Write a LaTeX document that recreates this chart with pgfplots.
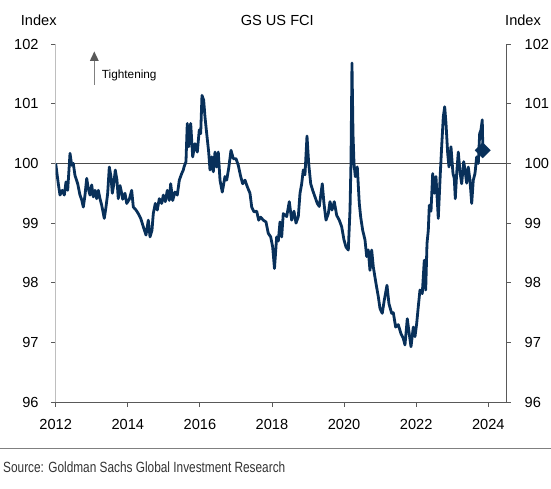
\documentclass[border=0pt]{standalone}
\usepackage{pgfplots}
\pgfplotsset{compat=1.18}
\usepackage{fontspec}
\setmainfont{Liberation Sans}
\newfontfamily\narrowfont[FakeStretch=0.8]{Liberation Sans}
\definecolor{navy}{RGB}{8,48,90}
\definecolor{axgrey}{RGB}{89,89,89}
\definecolor{lightax}{RGB}{190,190,190}
\pgfplotstableread{
x y
2012.000 100.00
2012.072 99.66
2012.119 99.47
2012.183 99.55
2012.239 99.47
2012.286 99.69
2012.333 99.55
2012.397 100.17
2012.444 99.97
2012.488 100.00
2012.535 99.80
2012.610 99.66
2012.674 99.47
2012.721 99.39
2012.766 99.27
2012.813 99.47
2012.860 99.75
2012.904 99.58
2012.951 99.47
2012.999 99.64
2013.043 99.44
2013.090 99.55
2013.137 99.41
2013.182 99.55
2013.229 99.41
2013.276 99.30
2013.348 99.08
2013.395 99.27
2013.442 99.50
2013.487 99.94
2013.534 99.78
2013.570 99.50
2013.609 99.64
2013.653 99.89
2013.700 99.72
2013.736 99.41
2013.784 99.63
2013.831 99.50
2013.859 99.40
2013.922 99.50
2013.970 99.33
2014.042 99.40
2014.108 99.55
2014.153 99.27
2014.227 99.22
2014.291 99.16
2014.358 99.08
2014.430 98.94
2014.505 98.80
2014.569 99.05
2014.616 98.77
2014.671 98.88
2014.707 99.16
2014.763 99.33
2014.818 99.22
2014.874 99.41
2014.940 99.33
2014.985 99.47
2015.040 99.36
2015.096 99.55
2015.151 99.38
2015.190 99.66
2015.245 99.38
2015.309 99.52
2015.373 99.47
2015.429 99.72
2015.495 99.83
2015.540 99.89
2015.559 99.94
2015.614 100.03
2015.650 100.67
2015.689 100.28
2015.745 100.67
2015.800 100.11
2015.864 100.33
2015.928 100.19
2015.983 100.56
2016.022 100.50
2016.058 101.14
2016.105 101.06
2016.141 100.78
2016.189 100.50
2016.244 100.19
2016.280 99.89
2016.327 100.11
2016.372 99.86
2016.419 100.19
2016.466 99.94
2016.510 100.19
2016.558 99.72
2016.621 99.52
2016.696 99.78
2016.743 99.72
2016.799 99.92
2016.863 100.22
2016.927 100.08
2017.001 100.08
2017.065 99.97
2017.132 99.78
2017.187 99.66
2017.251 99.72
2017.315 99.61
2017.390 99.50
2017.437 99.27
2017.501 99.19
2017.576 99.20
2017.631 99.05
2017.687 99.10
2017.759 99.05
2017.834 99.02
2017.897 98.83
2017.964 98.77
2018.019 98.60
2018.069 98.24
2018.130 98.77
2018.175 98.70
2018.222 99.02
2018.269 98.77
2018.313 99.16
2018.408 99.11
2018.480 99.36
2018.546 99.05
2018.610 99.20
2018.666 99.00
2018.730 99.11
2018.777 99.50
2018.824 99.66
2018.868 99.89
2018.915 99.81
2018.971 100.46
2019.018 100.00
2019.074 99.66
2019.129 99.55
2019.193 99.44
2019.257 99.33
2019.312 99.28
2019.395 99.66
2019.442 99.33
2019.498 99.05
2019.562 99.16
2019.609 99.36
2019.664 99.22
2019.728 99.36
2019.795 99.13
2019.867 99.05
2019.933 98.94
2019.997 98.72
2020.053 98.60
2020.117 98.55
2020.164 99.22
2020.191 100.00
2020.219 101.68
2020.247 100.50
2020.275 100.00
2020.311 99.78
2020.366 99.94
2020.422 99.33
2020.461 99.10
2020.516 98.88
2020.580 98.72
2020.627 98.44
2020.671 98.55
2020.718 98.21
2020.766 98.55
2020.810 98.27
2020.885 97.99
2020.949 97.77
2020.996 97.57
2021.059 97.49
2021.115 97.71
2021.190 97.96
2021.245 97.65
2021.320 97.49
2021.365 97.50
2021.431 97.26
2021.503 97.30
2021.578 97.15
2021.642 97.07
2021.689 96.96
2021.753 97.40
2021.800 97.18
2021.856 96.93
2021.920 97.26
2021.967 97.10
2022.014 97.32
2022.058 97.60
2022.105 97.88
2022.169 97.82
2022.225 98.38
2022.264 97.88
2022.300 98.66
2022.336 98.88
2022.364 99.30
2022.411 99.20
2022.458 99.83
2022.502 99.50
2022.549 99.78
2022.613 99.08
2022.669 99.83
2022.707 100.28
2022.752 100.78
2022.791 100.95
2022.827 100.67
2022.874 100.17
2022.910 99.94
2022.965 100.28
2023.021 99.83
2023.057 99.75
2023.085 99.41
2023.123 99.83
2023.168 100.19
2023.215 99.86
2023.262 99.66
2023.318 100.03
2023.354 99.89
2023.401 99.67
2023.445 99.94
2023.492 99.72
2023.540 99.33
2023.584 99.72
2023.631 99.83
2023.678 100.11
2023.723 100.00
2023.761 100.50
2023.797 100.56
2023.833 100.73
2023.847 100.30
}\fci
\begin{document}
\begin{tikzpicture}
\useasboundingbox (0,0) rectangle (551bp,489bp);
\pgfplotsset{
  myaxis/.style={
    at={(55.7bp,86.7bp)}, anchor=south west,
    scale only axis, width=450.6bp, height=358.3bp,
    xmin=2012, xmax=2024.5, ymin=96, ymax=102,
    ytick={96,97,...,102},
    tick align=outside,
    major tick length=4.5bp,
    /pgf/number format/1000 sep={},
    /pgf/number format/assume math mode=true,
    tick label style={font=\fontsize{14.6bp}{17bp}\selectfont, inner sep=0pt},
  }
}
\begin{axis}[myaxis,
  axis x line*=bottom, axis y line*=left,
  xtick={2012,2014,...,2024},
  x axis line style={draw=axgrey, line width=0.9bp, -},
  y axis line style={draw=lightax, line width=1.3bp, -},
  x tick style={draw=axgrey, line width=0.8bp},
  y tick style={draw=axgrey, line width=0.8bp},
  yticklabel style={anchor=east, xshift=-12.4bp},
  xticklabel style={anchor=north, yshift=-12bp},
]
\addplot[draw=axgrey!85!black, line width=0.9bp, forget plot] coordinates {(2012,100) (2024.5,100)};
\addplot[draw=navy, line width=2.8bp, line join=round] table[x=x,y=y] {\fci};
\addplot[only marks, mark=square*, mark size=5.4bp, mark options={rotate=45, draw=navy, fill=navy}] coordinates {(2023.845,100.22)};
\end{axis}
\begin{axis}[myaxis,
  axis x line=none, axis y line*=right,
  y axis line style={draw=axgrey, line width=0.9bp, -},
  y tick style={draw=axgrey, line width=0.8bp},
  yticklabel style={anchor=west, xshift=13.7bp},
]
\addplot[draw=none, forget plot] coordinates {(2012,100)};
\end{axis}
\node[anchor=base west, inner sep=0pt, font=\fontsize{14.6bp}{17bp}\selectfont] at (20.7bp,463bp) {Index};
\node[anchor=base, inner sep=0pt, font=\fontsize{14.6bp}{17bp}\selectfont] at (277.3bp,463bp) {GS US FCI};
\node[anchor=base west, inner sep=0pt, font=\fontsize{14.6bp}{17bp}\selectfont] at (505bp,463bp) {Index};
\draw[draw=gray, line width=1.2bp] (94.3bp,404bp) -- (94.3bp,430bp);
\fill[axgrey] (89.8bp,428bp) -- (94.3bp,437.5bp) -- (98.8bp,428bp) -- cycle;
\node[anchor=base west, inner sep=0pt, font=\fontsize{11.8bp}{14bp}\selectfont] at (101.7bp,410.5bp) {Tightening};
\draw[draw=gray, line width=1bp] (0,40bp) -- (551bp,40bp);
\node[anchor=base west, inner sep=0pt, text=black!80, font=\narrowfont\fontsize{14.8bp}{17bp}\selectfont] at (3bp,16.3bp) {Source: Goldman Sachs Global Investment Research};
\end{tikzpicture}
\end{document}
